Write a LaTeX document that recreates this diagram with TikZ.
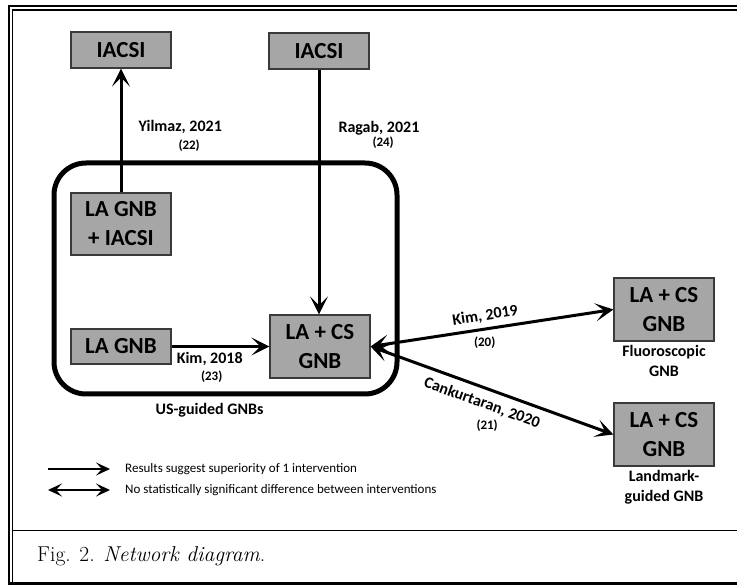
\documentclass[tikz,border=0pt]{standalone}
\usepackage{fontspec}
\newfontfamily\carlito{Carlito}
\usepackage{xcolor}
\usepackage{tikz}
\usetikzlibrary{positioning,arrows.meta}
\definecolor{boxgray}{HTML}{A6A6A6}
\definecolor{boxline}{HTML}{3A3A3A}

\tikzset{
  gnb/.style={draw=boxline,line width=1.2pt,fill=boxgray,minimum width=100pt,
    align=center,inner sep=0pt,font=\carlito\bfseries\fontsize{23}{29}\selectfont},
  tag/.style={font=\carlito\bfseries\fontsize{16}{20}\selectfont,inner sep=0pt,align=center},
  studyref/.style={font=\carlito\bfseries\fontsize{13}{15}\selectfont,inner sep=0pt},
  keytext/.style={font=\carlito\fontsize{13}{15}\selectfont,inner sep=0pt,anchor=west},
  suparrow/.style={line width=3pt,-{Stealth[length=18pt,width=18pt,inset=9pt]}},
  eqarrow/.style={line width=3pt,{Stealth[length=18pt,width=18pt,inset=9pt]}-{Stealth[length=18pt,width=18pt,inset=9pt]}},
}

\begin{document}
\begin{tikzpicture}[x=1pt,y=-1pt]
  \useasboundingbox (0,0) rectangle (737,585);
  % frame and caption rule
  \draw[line width=2.2pt] (745,6) -- (9,6) -- (9,583.5) -- (745,583.5);
  \draw[line width=1.1pt] (745,10) -- (12.5,10) -- (12.5,583.5);
  \draw[line width=1.1pt] (12.5,530.5) -- (745,530.5);
  \node[anchor=west,inner sep=0pt,font=\fontsize{21.5}{26}\selectfont] (caption) at (37,556)
     {Fig. 2. \textit{Network diagram}.};

  % US-guided group
  \node[draw,line width=5pt,rounded corners=32pt,inner sep=0pt,
        minimum width=343pt,minimum height=231pt] (usbox) at (225.5,278.5) {};
  \node[tag,below=7pt of usbox.south,xshift=-16pt] (uslabel) {US-guided GNBs};

  % interventions
  \node[gnb,minimum height=36pt] (iacsiL) at (121,50) {IACSI};
  \node[gnb,minimum height=36pt] (iacsiR) at (319,51) {IACSI};
  \node[gnb,minimum height=62pt] (lagnbI) at (121,224) {LA GNB\\+ IACSI};
  \node[gnb,minimum height=35pt] (lagnb) at (121,346.5) {LA GNB};
  \node[gnb,minimum height=63pt] (lacs) at (320,346.5) {LA + CS\\GNB};
  \node[gnb,minimum height=63pt] (fluoro) at (664,309.5) {LA + CS\\GNB};
  \node[gnb,minimum height=63pt] (landmark) at (664,434.5) {LA + CS\\GNB};
  \node[tag,below=3pt of fluoro] (fluorolabel) {Fluoroscopic\\GNB};
  \node[tag,below=3pt of landmark] (landmarklabel) {Landmark-\\guided GNB};

  % comparisons
  \draw[suparrow] (lagnbI) -- (iacsiL)
     node[tag,pos=0.53,right=16pt] {Yilmaz, 2021}
     node[studyref,pos=0.38,right=56pt] {(22)};
  \draw[suparrow] (iacsiR) -- (iacsiR |- lacs.north)
     node[tag,pos=0.24,right=18pt] {Ragab, 2021}
     node[studyref,pos=0.30,right=52pt] {(24)};
  \draw[suparrow] (lagnb) -- (lacs)
     node[tag,pos=0.39,yshift=-12pt] {Kim, 2018}
     node[studyref,pos=0.41,yshift=-30pt] {(23)};
  \draw[eqarrow] (lacs.east) -- (fluoro.west)
     node[tag,pos=0.48,sloped,above=5pt] {Kim, 2019}
     node[studyref,pos=0.47,yshift=-14pt] {(20)};
  \draw[eqarrow] (lacs.east) -- (landmark.west)
     node[tag,pos=0.48,sloped,below=7pt] {Cankurtaran, 2020}
     node[studyref,pos=0.48,yshift=-37pt] {(21)};

  % legend
  \coordinate (k1a) at (48,469);
  \coordinate (k1b) at (110,469);
  \coordinate (k2a) at (48,490);
  \coordinate (k2b) at (110,490);
  \draw[line width=2pt,-{Stealth[length=14pt,width=13pt,inset=6pt]}] (k1a) -- (k1b);
  \draw[line width=2pt,{Stealth[length=14pt,width=13pt,inset=6pt]}-{Stealth[length=14pt,width=13pt,inset=6pt]}] (k2a) -- (k2b);
  \node[keytext] (key1) at (125,469) {Results suggest superiority of 1 intervention};
  \node[keytext] (key2) at (125,490) {No statistically significant difference between interventions};
\end{tikzpicture}
\end{document}
